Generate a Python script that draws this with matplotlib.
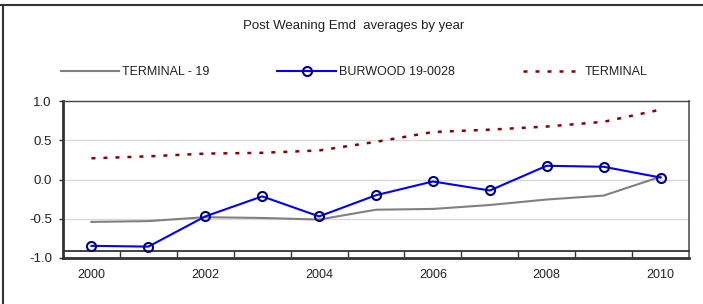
import numpy as np
import matplotlib
matplotlib.use('Agg')
import matplotlib.pyplot as plt
from matplotlib.lines import Line2D

plt.rcParams['font.family'] = ['Liberation Sans', 'DejaVu Sans']

# Data
years = ['2000', '2001', '2002', '2003', '2004', '2005',
         '2006', '2007', '2008', '2009', '2010']
terminal_19 = [-0.54, -0.53, -0.48, -0.49, -0.51, -0.385,
               -0.375, -0.325, -0.255, -0.205, 0.035]
burwood = [-0.845, -0.855, -0.47, -0.215, -0.47, -0.20,
           -0.025, -0.14, 0.175, 0.162, 0.025]
terminal = [0.27, 0.295, 0.33, 0.34, 0.37, 0.48,
            0.605, 0.635, 0.675, 0.735, 0.89]
year_labels = ['2000', '', '2002', '', '2004', '', '2006', '', '2008', '', '2010']
y_ticks = [-1.0, -0.5, 0.0, 0.5, 1.0]

x = np.arange(len(years))
axis_cross = -0.91

fig = plt.figure(figsize=(7.03, 3.04), dpi=100)
ax = fig.add_axes([63 / 703, 46 / 304, 626 / 703, 157 / 304])

for v in y_ticks[1:-1]:
    ax.axhline(v, color='#d9d9d9', lw=1, zorder=0)

l1, = ax.plot(x, terminal_19, color='#808080', lw=1.5, label='TERMINAL - 19', zorder=2)
l2, = ax.plot(x, burwood, color='#0000ff', lw=1.5, marker='o', ms=6.5,
              mfc='none', mec='#000080', mew=1.5, label='BURWOOD 19-0028', zorder=3)
l3, = ax.plot(x, terminal, color='#8b0000', lw=1.8, dashes=(1.6, 3.2),
              label='TERMINAL', zorder=2)

ax.set_xlim(-0.5, len(years) - 0.5)
ax.set_ylim(-1.0, 1.0)
ax.set_yticks(y_ticks)
ax.set_yticklabels(['%.1f' % v for v in y_ticks])

# category axis sits a bit above the bottom of the plot area
ax.spines['bottom'].set_position(('data', axis_cross))
ax.spines['bottom'].set_color('#333333')
ax.spines['bottom'].set_linewidth(1.3)
ax.axhline(-1.0, color='#333333', lw=2, clip_on=False, zorder=5)
ax.spines['left'].set_color('#333333')
ax.spines['left'].set_linewidth(2)
ax.spines['top'].set_color('#444444')
ax.spines['top'].set_linewidth(1)
ax.spines['right'].set_color('#555555')
ax.spines['right'].set_linewidth(1.2)

ax.set_xticks(x)
ax.set_xticklabels(year_labels)
ax.set_xticks(x[:-1] + 0.5, minor=True)
ax.tick_params(axis='x', which='major', length=0, pad=13, labelsize=9, labelcolor='#222222')
ax.tick_params(axis='x', which='minor', length=4, width=1, color='#333333', direction='out')
ax.tick_params(axis='y', length=3, width=1, color='#333333', pad=5,
               labelsize=9.5, labelcolor='#222222')

fig.text(0.503, 1 - 26 / 304, 'Post Weaning Emd  averages by year',
         ha='center', va='center', fontsize=9.5, color='#222222')

fig.legend(handles=[l1, l2, l3], loc='center', bbox_to_anchor=(354 / 703, 1 - 72 / 304),
           ncol=3, frameon=False, fontsize=9, handlelength=4.7, handletextpad=0.25,
           columnspacing=5.4, labelcolor='#222222')

# outer frame of the chart
fig.add_artist(Line2D([0, 1], [1 - 5 / 304, 1 - 5 / 304], color='#333333', lw=1.5))
fig.add_artist(Line2D([3 / 703, 3 / 703], [0, 1 - 5 / 304], color='#333333', lw=1.5))

fig.savefig('out.png', dpi=100)
